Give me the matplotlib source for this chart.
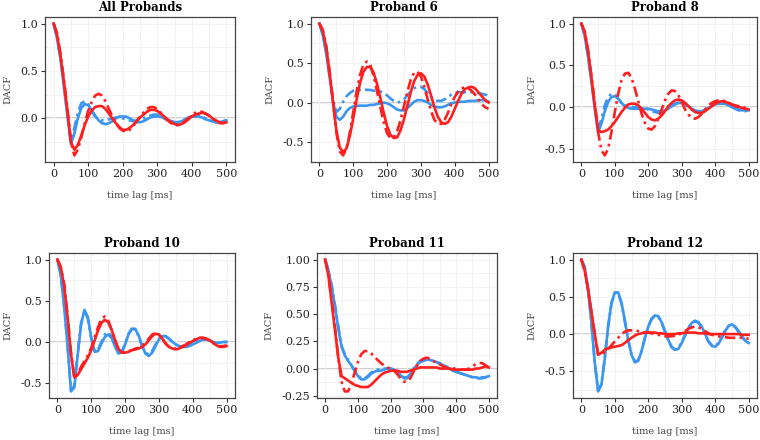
import matplotlib.pyplot as plt
import numpy as np

plt.rcParams['font.family'] = ['DejaVu Serif']

# time lags (ms), one value every 10 ms
lag = np.arange(0, 501, 10)

titles = ['All Probands', 'Proband 6', 'Proband 8', 'Proband 10', 'Proband 11', 'Proband 12']

# All Probands
all_blue = [1.0, 0.84, 0.62, 0.32, 0.02, -0.27, -0.16, 0.0, 0.11, 0.15, 0.14, 0.09, 0.03, -0.02, -0.05, -0.06,
            -0.05, -0.03, 0.0, 0.02, 0.02, 0.02, 0.0, -0.02, -0.04, -0.04, -0.03, -0.01, 0.01, 0.02, 0.02, 0.02,
            0.0, -0.02, -0.03, -0.04, -0.04, -0.03, -0.01, 0.01, 0.02, 0.02, 0.02, 0.01, -0.01, -0.02, -0.03,
            -0.04, -0.04, -0.03, -0.02]
all_blue_dd = [1.0, 0.85, 0.64, 0.35, 0.05, -0.24, -0.1, 0.06, 0.16, 0.18, 0.15, 0.08, 0.02, -0.01, -0.02, -0.02,
               -0.01, 0.0, 0.01, 0.01, 0.0, -0.01, -0.02, -0.03, -0.02, -0.01, 0.0, 0.02, 0.03, 0.04, 0.04, 0.03,
               0.01, -0.01, -0.03, -0.04, -0.04, -0.03, -0.01, 0.01, 0.02, 0.03, 0.03, 0.02, 0.0, -0.02, -0.03,
               -0.04, -0.04, -0.03, -0.02]
all_red = [1.0, 0.88, 0.66, 0.38, 0.08, -0.25, -0.33, -0.28, -0.18, -0.07, 0.02, 0.08, 0.12, 0.13, 0.13, 0.1,
           0.05, 0.0, -0.05, -0.09, -0.12, -0.12, -0.1, -0.07, -0.03, 0.01, 0.04, 0.07, 0.09, 0.09, 0.08, 0.05,
           0.02, -0.01, -0.04, -0.06, -0.07, -0.06, -0.04, -0.01, 0.02, 0.04, 0.05, 0.06, 0.05, 0.03, 0.0,
           -0.02, -0.04, -0.05, -0.04]
all_red_dd = [1.0, 0.9, 0.68, 0.4, 0.1, -0.25, -0.39, -0.33, -0.2, -0.05, 0.08, 0.17, 0.24, 0.26, 0.24, 0.18,
              0.1, 0.02, -0.05, -0.1, -0.13, -0.14, -0.12, -0.08, -0.03, 0.02, 0.06, 0.1, 0.12, 0.12, 0.1, 0.06,
              0.02, -0.02, -0.05, -0.07, -0.07, -0.06, -0.03, 0.0, 0.03, 0.06, 0.07, 0.07, 0.05, 0.03, 0.0,
              -0.03, -0.05, -0.05, -0.04]

# Proband 6
p6_blue = [1.0, 0.85, 0.62, 0.32, 0.02, -0.18, -0.22, -0.18, -0.11, -0.07, -0.05, -0.04, -0.04, -0.04, -0.04,
           -0.03, -0.03, -0.02, -0.01, 0.0, -0.01, -0.03, -0.06, -0.09, -0.1, -0.1, -0.07, -0.03, 0.01, 0.03,
           0.03, 0.02, 0.0, -0.03, -0.05, -0.06, -0.06, -0.05, -0.03, -0.01, 0.0, 0.01, 0.01, 0.01, 0.02, 0.02,
           0.02, 0.03, 0.03, 0.03, 0.01]
p6_blue_dd = [1.0, 0.86, 0.64, 0.34, 0.04, -0.12, -0.08, 0.01, 0.08, 0.12, 0.15, 0.16, 0.16, 0.17, 0.16, 0.16,
              0.15, 0.15, 0.14, 0.12, 0.09, 0.05, 0.02, 0.0, 0.01, 0.04, 0.09, 0.14, 0.18, 0.2, 0.2, 0.17, 0.12,
              0.07, 0.03, 0.02, 0.02, 0.04, 0.07, 0.1, 0.12, 0.13, 0.13, 0.13, 0.13, 0.13, 0.13, 0.12, 0.11, 0.1,
              0.09]
p6_red = [1.0, 0.9, 0.7, 0.38, 0.0, -0.35, -0.57, -0.63, -0.58, -0.42, -0.2, 0.04, 0.25, 0.39, 0.45, 0.45,
          0.38, 0.24, 0.06, -0.13, -0.3, -0.41, -0.45, -0.44, -0.35, -0.21, -0.04, 0.13, 0.27, 0.35, 0.37, 0.33,
          0.23, 0.09, -0.06, -0.18, -0.25, -0.27, -0.25, -0.18, -0.08, 0.02, 0.11, 0.17, 0.19, 0.2, 0.18, 0.13,
          0.08, 0.03, 0.0]
p6_red_dd = [1.0, 0.92, 0.72, 0.4, 0.02, -0.38, -0.62, -0.67, -0.58, -0.38, -0.12, 0.14, 0.35, 0.48, 0.52, 0.48,
             0.34, 0.15, -0.06, -0.25, -0.39, -0.45, -0.44, -0.36, -0.22, -0.04, 0.14, 0.29, 0.38, 0.39, 0.33,
             0.2, 0.04, -0.11, -0.22, -0.27, -0.27, -0.22, -0.13, -0.02, 0.07, 0.14, 0.18, 0.19, 0.18, 0.15,
             0.1, 0.04, -0.02, -0.06, -0.08]

# Proband 8
p8_blue = [1.0, 0.85, 0.6, 0.3, -0.02, -0.3, -0.2, -0.05, 0.06, 0.12, 0.13, 0.1, 0.05, 0.01, -0.01, -0.02, -0.02,
           -0.02, -0.02, -0.02, -0.02, -0.03, -0.04, -0.05, -0.05, -0.04, -0.02, 0.01, 0.03, 0.05, 0.05, 0.04,
           0.01, -0.02, -0.04, -0.05, -0.05, -0.03, -0.01, 0.01, 0.03, 0.04, 0.04, 0.04, 0.02, 0.0, -0.02, -0.03,
           -0.04, -0.04, -0.04]
p8_blue_dd = [1.0, 0.86, 0.62, 0.32, 0.0, -0.28, -0.14, 0.02, 0.12, 0.16, 0.15, 0.1, 0.05, 0.02, 0.01, 0.0, 0.0,
              0.0, -0.01, -0.02, -0.03, -0.05, -0.06, -0.07, -0.06, -0.04, -0.01, 0.02, 0.04, 0.05, 0.05, 0.03,
              0.0, -0.03, -0.05, -0.06, -0.05, -0.03, 0.0, 0.02, 0.04, 0.05, 0.05, 0.04, 0.02, 0.0, -0.02, -0.04,
              -0.05, -0.05, -0.04]
p8_red = [1.0, 0.9, 0.67, 0.36, 0.02, -0.28, -0.3, -0.29, -0.27, -0.23, -0.18, -0.12, -0.06, -0.01, 0.03, 0.04,
          0.04, 0.02, -0.02, -0.07, -0.12, -0.15, -0.16, -0.14, -0.1, -0.05, 0.01, 0.05, 0.08, 0.09, 0.08, 0.05,
          0.01, -0.03, -0.06, -0.07, -0.07, -0.05, -0.02, 0.01, 0.04, 0.06, 0.07, 0.06, 0.05, 0.03, 0.01, 0.0,
          -0.01, -0.02, -0.03]
p8_red_dd = [1.0, 0.9, 0.68, 0.38, 0.05, -0.3, -0.52, -0.58, -0.5, -0.3, -0.06, 0.16, 0.32, 0.4, 0.41, 0.35,
             0.22, 0.07, -0.08, -0.19, -0.26, -0.27, -0.23, -0.14, -0.03, 0.08, 0.16, 0.2, 0.19, 0.14, 0.06,
             -0.03, -0.09, -0.13, -0.14, -0.12, -0.08, -0.03, 0.02, 0.05, 0.07, 0.08, 0.08, 0.07, 0.05, 0.03,
             0.02, 0.01, 0.0, -0.01, -0.02]

# Proband 10
p10_blue = [1.0, 0.8, 0.42, -0.05, -0.6, -0.55, -0.15, 0.22, 0.39, 0.3, 0.05, -0.12, -0.11, -0.02, 0.06, 0.09,
            0.05, -0.05, -0.14, -0.13, -0.03, 0.09, 0.16, 0.16, 0.08, -0.04, -0.14, -0.17, -0.13, -0.05, 0.03,
            0.07, 0.07, 0.04, 0.0, -0.03, -0.05, -0.06, -0.06, -0.05, -0.03, -0.01, 0.01, 0.03, 0.03, 0.02, 0.0,
            -0.01, -0.01, 0.0, 0.0]
p10_blue_dd = [1.0, 0.81, 0.43, -0.04, -0.59, -0.53, -0.13, 0.23, 0.38, 0.28, 0.04, -0.11, -0.09, 0.0, 0.09, 0.12,
               0.07, -0.04, -0.13, -0.12, -0.02, 0.1, 0.16, 0.15, 0.07, -0.05, -0.13, -0.15, -0.11, -0.03, 0.04,
               0.08, 0.07, 0.04, 0.0, -0.03, -0.05, -0.05, -0.05, -0.04, -0.02, 0.0, 0.02, 0.03, 0.03, 0.02, 0.0,
               -0.01, -0.01, 0.0, 0.0]
p10_red = [1.0, 0.9, 0.68, 0.3, -0.15, -0.43, -0.4, -0.33, -0.26, -0.19, -0.1, 0.02, 0.14, 0.23, 0.27, 0.24,
           0.15, 0.03, -0.08, -0.13, -0.13, -0.12, -0.1, -0.09, -0.08, -0.06, -0.03, 0.02, 0.07, 0.1, 0.09, 0.04,
           -0.02, -0.06, -0.08, -0.09, -0.08, -0.06, -0.04, -0.01, 0.01, 0.03, 0.05, 0.05, 0.04, 0.02, -0.01,
           -0.04, -0.06, -0.06, -0.05]
p10_red_dd = [1.0, 0.91, 0.7, 0.32, -0.13, -0.44, -0.39, -0.3, -0.23, -0.16, -0.07, 0.06, 0.18, 0.28, 0.31, 0.26,
              0.15, 0.02, -0.09, -0.13, -0.12, -0.11, -0.1, -0.08, -0.07, -0.05, -0.01, 0.04, 0.09, 0.11, 0.09,
              0.04, -0.02, -0.06, -0.08, -0.08, -0.07, -0.05, -0.03, 0.0, 0.02, 0.04, 0.05, 0.05, 0.04, 0.02,
              -0.01, -0.04, -0.05, -0.05, -0.04]

# Proband 11
p11_blue = [1.0, 0.9, 0.75, 0.57, 0.37, 0.2, 0.12, 0.07, 0.03, -0.02, -0.07, -0.1, -0.1, -0.08, -0.05, -0.03,
            -0.02, -0.02, -0.01, 0.0, 0.0, -0.01, -0.03, -0.06, -0.09, -0.09, -0.06, -0.01, 0.03, 0.06, 0.07,
            0.08, 0.08, 0.07, 0.06, 0.05, 0.03, 0.02, 0.0, -0.02, -0.03, -0.04, -0.05, -0.06, -0.07, -0.08,
            -0.08, -0.09, -0.09, -0.08, -0.07]
p11_blue_dd = [1.0, 0.9, 0.76, 0.58, 0.38, 0.21, 0.13, 0.08, 0.03, -0.02, -0.06, -0.09, -0.09, -0.07, -0.04,
               -0.02, -0.01, -0.01, 0.0, 0.0, 0.0, -0.01, -0.03, -0.06, -0.08, -0.08, -0.05, 0.0, 0.04, 0.07,
               0.08, 0.09, 0.08, 0.07, 0.06, 0.04, 0.03, 0.01, 0.0, -0.02, -0.03, -0.04, -0.05, -0.06, -0.07,
               -0.08, -0.08, -0.09, -0.08, -0.08, -0.07]
p11_red = [1.0, 0.85, 0.6, 0.35, 0.1, -0.07, -0.09, -0.11, -0.13, -0.15, -0.16, -0.17, -0.17, -0.17, -0.15,
           -0.12, -0.09, -0.06, -0.04, -0.03, -0.02, -0.02, -0.02, -0.03, -0.03, -0.03, -0.02, -0.01, 0.0, 0.01,
           0.01, 0.01, 0.01, 0.01, 0.01, 0.0, 0.0, 0.0, 0.0, -0.01, -0.01, -0.01, -0.01, -0.01, -0.01, -0.01,
           0.0, 0.0, 0.01, 0.02, 0.01]
p11_red_dd = [1.0, 0.85, 0.62, 0.38, 0.1, -0.12, -0.21, -0.21, -0.14, -0.04, 0.06, 0.13, 0.16, 0.16, 0.14, 0.11,
              0.08, 0.05, 0.03, 0.01, 0.0, -0.02, -0.05, -0.09, -0.12, -0.12, -0.09, -0.03, 0.03, 0.07, 0.09,
              0.1, 0.09, 0.07, 0.05, 0.04, 0.02, 0.01, 0.0, 0.0, 0.0, -0.01, -0.01, -0.01, 0.0, 0.02, 0.04, 0.05,
              0.05, 0.03, 0.01]

# Proband 12
p12_blue = [1.0, 0.9, 0.6, 0.15, -0.38, -0.77, -0.68, -0.33, 0.1, 0.42, 0.56, 0.56, 0.42, 0.18, -0.08, -0.28,
            -0.38, -0.36, -0.23, -0.05, 0.1, 0.21, 0.25, 0.24, 0.16, 0.04, -0.08, -0.17, -0.21, -0.2, -0.12,
            -0.02, 0.08, 0.15, 0.18, 0.16, 0.1, 0.0, -0.1, -0.16, -0.17, -0.13, -0.05, 0.04, 0.11, 0.13, 0.1,
            0.04, -0.03, -0.09, -0.12]
p12_blue_dd = [1.0, 0.9, 0.61, 0.16, -0.37, -0.76, -0.67, -0.32, 0.1, 0.41, 0.55, 0.55, 0.41, 0.17, -0.08,
               -0.27, -0.37, -0.35, -0.22, -0.05, 0.1, 0.2, 0.24, 0.23, 0.15, 0.03, -0.09, -0.18, -0.21, -0.19,
               -0.11, -0.01, 0.08, 0.15, 0.17, 0.15, 0.09, -0.01, -0.1, -0.15, -0.16, -0.12, -0.04, 0.05, 0.11,
               0.12, 0.09, 0.03, -0.04, -0.09, -0.11]
p12_red = [1.0, 0.85, 0.6, 0.3, 0.0, -0.28, -0.25, -0.21, -0.19, -0.18, -0.17, -0.16, -0.15, -0.12, -0.08, -0.05,
           -0.02, 0.0, 0.01, 0.02, 0.02, 0.02, 0.02, 0.01, 0.01, 0.0, 0.0, 0.0, 0.0, 0.01, 0.01, 0.02, 0.02,
           0.02, 0.02, 0.01, 0.01, 0.01, 0.0, 0.0, 0.0, 0.0, 0.0, 0.0, 0.0, 0.0, 0.0, 0.0, -0.01, -0.01, -0.01]
p12_red_dd = [1.0, 0.85, 0.6, 0.3, 0.0, -0.27, -0.28, -0.24, -0.2, -0.15, -0.1, -0.05, 0.0, 0.03, 0.05, 0.05,
              0.05, 0.04, 0.03, 0.02, 0.02, 0.01, 0.0, -0.01, -0.02, -0.03, -0.03, -0.03, -0.02, -0.01, 0.01,
              0.04, 0.07, 0.09, 0.1, 0.09, 0.07, 0.04, 0.01, -0.01, -0.02, -0.03, -0.04, -0.04, -0.05, -0.05,
              -0.05, -0.05, -0.05, -0.06, -0.06]

series = [
    (all_blue, all_blue_dd, all_red, all_red_dd),
    (p6_blue, p6_blue_dd, p6_red, p6_red_dd),
    (p8_blue, p8_blue_dd, p8_red, p8_red_dd),
    (p10_blue, p10_blue_dd, p10_red, p10_red_dd),
    (p11_blue, p11_blue_dd, p11_red, p11_red_dd),
    (p12_blue, p12_blue_dd, p12_red, p12_red_dd),
]

# axes boxes in pixels: left, right, top, bottom
boxes = [(45, 235, 17, 162), (311, 497, 17, 162), (573, 757, 17, 162),
         (49, 235, 253, 398), (317, 497, 253, 398), (573, 757, 253, 398)]

BLUE = '#3a96f0'
RED = '#ff1f1f'
DASHDOT = (0, (4, 1.6, 1, 1.6))

fig = plt.figure(figsize=(7.6, 4.4), dpi=100)
W, H = 760, 440

for i, (title, (bs, bd, rs, rd)) in enumerate(zip(titles, series)):
    l, r, t, b = boxes[i]
    ax = fig.add_axes([l / W, 1 - b / H, (r - l) / W, (b - t) / H])

    ax.axhline(0, color='#c8c8c8', lw=1.3, zorder=1)
    ax.plot(lag, bs, color=BLUE, lw=1.9, zorder=3)
    ax.plot(lag, bd, color=BLUE, lw=1.9, ls=DASHDOT, zorder=3)
    ax.plot(lag, rs, color=RED, lw=1.9, zorder=4)
    ax.plot(lag, rd, color=RED, lw=1.9, ls=DASHDOT, zorder=4)

    lo = min(min(bs), min(bd), min(rs), min(rd))
    hi = max(max(bs), max(bd), max(rs), max(rd))
    pad = 0.05 * (hi - lo)

    ax.set_xticks([0, 100, 200, 300, 400, 500])
    ax.set_xticks(np.arange(50, 501, 100), minor=True)
    if title == 'Proband 11':
        ys = [-0.25, 0.0, 0.25, 0.5, 0.75, 1.0]
        ax.set_yticks(ys)
        ax.set_yticklabels(['%.2f' % v for v in ys])
        ax.set_yticks(np.arange(-0.125, 1.0, 0.25), minor=True)
    else:
        ys = [v for v in (-0.5, 0.0, 0.5, 1.0) if v >= lo - pad]
        ax.set_yticks(ys)
        ax.set_yticklabels(['%.1f' % v for v in ys])
        ax.set_yticks(np.arange(-0.75, 1.0, 0.25), minor=True)
    ax.set_xlim(-25, 525)
    ax.set_ylim(lo - pad, hi + pad)

    ax.grid(True, which='both', color='#f3f3f3', lw=0.8, zorder=0)
    ax.tick_params(which='major', length=3, width=0.8, color='#333333', labelsize=8, labelcolor='#222222', pad=2)
    ax.tick_params(which='minor', length=0)
    for s in ax.spines.values():
        s.set_color('#444444')
        s.set_linewidth(0.9)

    ax.set_title(title, fontsize=8.5, fontweight='bold', pad=4)
    ax.set_xlabel('time lag [ms]', fontsize=7, color='#444444', labelpad=9)
    ax.set_ylabel('DACF', fontsize=7, color='#444444', labelpad=6)

fig.savefig('out.png', dpi=100)
